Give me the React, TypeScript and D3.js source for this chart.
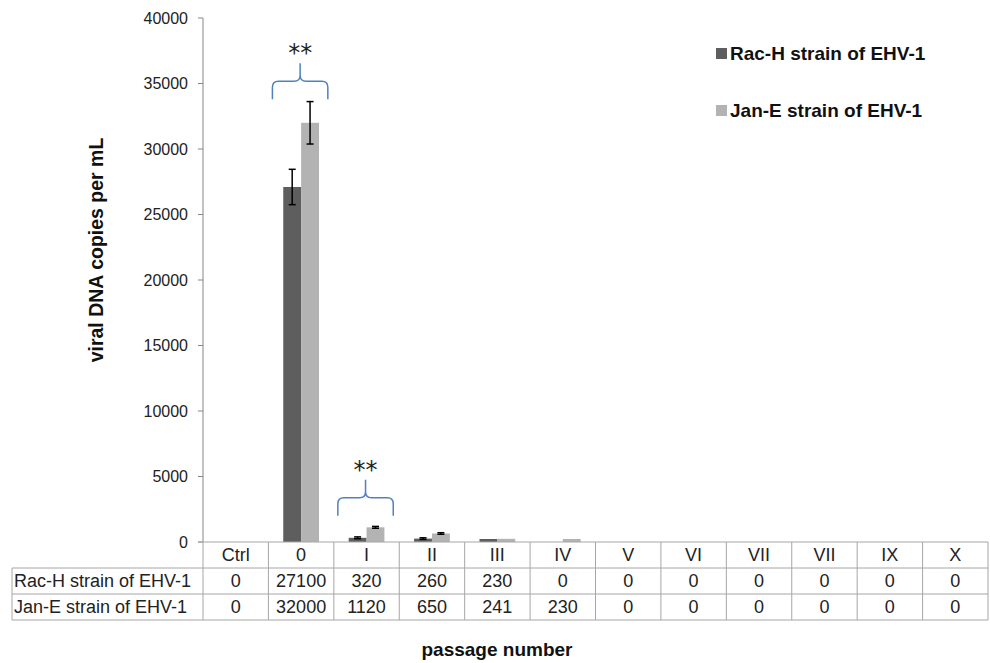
import * as d3 from 'd3';

// passages shown in the table header / x categories
const passages = ['Ctrl', '0', 'I', 'II', 'III', 'IV', 'V', 'VI', 'VII', 'VII', 'IX', 'X'];
const seriesNames = ['Rac-H strain of EHV-1', 'Jan-E strain of EHV-1'];
const racH = [0, 27100, 320, 260, 230, 0, 0, 0, 0, 0, 0, 0];
const janE = [0, 32000, 1120, 650, 241, 230, 0, 0, 0, 0, 0, 0];
const racHErr = [0, 1350, 70, 60, 0, 0, 0, 0, 0, 0, 0, 0];
const janEErr = [0, 1620, 70, 60, 0, 0, 0, 0, 0, 0, 0, 0];
const yTicks = [0, 5000, 10000, 15000, 20000, 25000, 30000, 35000, 40000];
// significance braces: category index, value of brace bottom
const braces = [
  { idx: 1, value: 33800 },
  { idx: 2, value: 2000 },
];

const W = 990;
const H = 663;
const FONT = '"Liberation Sans", Arial, sans-serif';
const colors = ['#5e5e5e', '#b3b3b3'];

export default function App() {
  const left = 203;
  const right = 988;
  const top = 18;
  const bottom = 542;
  const rowH = 26;
  const tableLeft = 12;

  const x = d3.scaleBand<number>()
    .domain(d3.range(passages.length))
    .range([left, right])
    .padding(0);

  const x1 = d3.scaleBand<number>()
    .domain([0, 1])
    .range([0, x.bandwidth()])
    .paddingInner(0)
    .paddingOuter(0.83);

  const y = d3.scaleLinear().domain([0, 40000]).range([bottom, top]);

  const values = [racH, janE];
  const errs = [racHErr, janEErr];

  const rows = [racH, janE];

  return (
    <svg width={W} height={H} style={{ position: 'absolute', left: 0, top: 0, background: '#fff' }} fontFamily={FONT}>
      {/* bars */}
      {values.map((vals, s) =>
        vals.map((v, i) => (
          <rect
            key={`b${s}-${i}`}
            x={(x(i) as number) + (x1(s) as number)}
            y={y(v)}
            width={x1.bandwidth()}
            height={bottom - y(v)}
            fill={colors[s]}
          />
        ))
      )}
      {/* error bars */}
      {errs.map((ev, s) =>
        ev.map((e, i) => {
          if (!e) return null;
          const cx = (x(i) as number) + (x1(s) as number) + x1.bandwidth() / 2;
          const v = values[s][i];
          const y0 = y(v + e);
          const y1 = y(v - e);
          return (
            <g key={`e${s}-${i}`} stroke="#000" strokeWidth={1.5}>
              <line x1={cx} x2={cx} y1={y0} y2={y1} />
              <line x1={cx - 3.5} x2={cx + 3.5} y1={y0} y2={y0} />
              <line x1={cx - 3.5} x2={cx + 3.5} y1={y1} y2={y1} />
            </g>
          );
        })
      )}
      {/* braces */}
      {braces.map((b, k) => {
        const x0 = (x(b.idx) as number) + 4;
        const xr = (x(b.idx) as number) + x.bandwidth() - 6;
        const xm = (x0 + xr) / 2;
        const yb = y(b.value);
        const yh = yb - 18;
        const yt = yh - 18;
        const r = 6;
        const d = `M${x0},${yb} L${x0},${yh + r} Q${x0},${yh} ${x0 + r},${yh} L${xm - r},${yh} Q${xm},${yh} ${xm},${yh - r} L${xm},${yt}`
          + ` M${xr},${yb} L${xr},${yh + r} Q${xr},${yh} ${xr - r},${yh} L${xm + r},${yh} Q${xm},${yh} ${xm},${yh - r}`;
        return (
          <g key={`br${k}`}>
            <path d={d} fill="none" stroke="#4f81bd" strokeWidth={1.5} />
            <text x={xm} y={yt - 2} textAnchor="middle" fontSize={24} fill="#222" fontFamily='"DejaVu Sans", sans-serif'>**</text>
          </g>
        );
      })}
      {/* y axis */}
      <line x1={left} x2={left} y1={top} y2={bottom} stroke="#868686" />
      {yTicks.map((t) => (
        <g key={`t${t}`}>
          <line x1={left - 5} x2={left} y1={y(t)} y2={y(t)} stroke="#868686" />
          <text x={188} y={y(t)} dy="0.35em" textAnchor="end" fontSize={16} fill="#222">{t}</text>
        </g>
      ))}
      <text
        transform="translate(103,250) rotate(-90)"
        textAnchor="middle"
        fontSize={19.5}
        fontWeight="bold"
        fill="#111"
      >viral DNA copies per mL</text>
      {/* data table */}
      <g stroke="#a6a6a6" strokeWidth={1}>
        <line x1={left - 5} x2={right} y1={bottom} y2={bottom} />
        {[1, 2, 3].map((r) => (
          <line key={`h${r}`} x1={tableLeft} x2={right} y1={bottom + r * rowH} y2={bottom + r * rowH} />
        ))}
        <line x1={tableLeft} x2={tableLeft} y1={bottom + rowH} y2={bottom + 3 * rowH} />
        {d3.range(passages.length + 1).map((i) => {
          const xx = i < passages.length ? (x(i) as number) : right;
          return <line key={`v${i}`} x1={xx} x2={xx} y1={bottom} y2={bottom + 3 * rowH} />;
        })}
      </g>
      {passages.map((p, i) => (
        <text key={`p${i}`} x={(x(i) as number) + x.bandwidth() / 2} y={bottom + rowH / 2} dy="0.35em" textAnchor="middle" fontSize={18} fill="#222">{p}</text>
      ))}
      {rows.map((vals, r) => (
        <g key={`r${r}`}>
          <text x={14} y={bottom + rowH * (r + 1.5)} dy="0.35em" fontSize={18} fill="#222">{seriesNames[r]}</text>
          {vals.map((v, i) => (
            <text key={`c${i}`} x={(x(i) as number) + x.bandwidth() / 2} y={bottom + rowH * (r + 1.5)} dy="0.35em" textAnchor="middle" fontSize={18} fill="#222">{v}</text>
          ))}
        </g>
      ))}
      <text x={497} y={656} textAnchor="middle" fontSize={19} fontWeight="bold" fill="#111">passage number</text>
      {/* legend */}
      {seriesNames.map((n, s) => (
        <g key={`l${s}`} transform={`translate(716,${48 + s * 57})`}>
          <rect x={0} y={0} width={11} height={11} fill={colors[s]} />
          <text x={14} y={5.5} dy="0.35em" fontSize={19} fontWeight="bold" fill="#111">{n}</text>
        </g>
      ))}
    </svg>
  );
}
